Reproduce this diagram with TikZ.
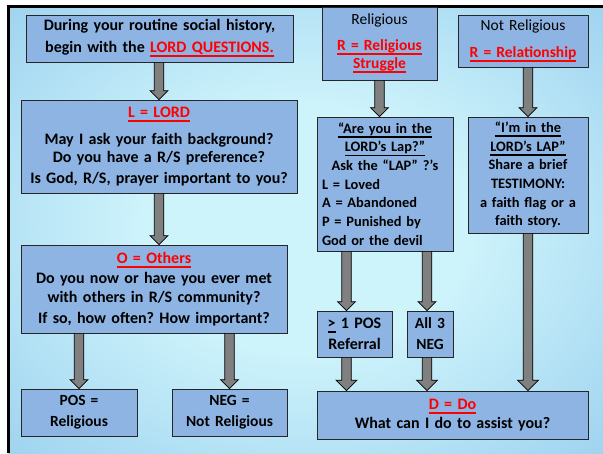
\documentclass[tikz,border=0pt]{standalone}
\usepackage{fontspec}
\setmainfont{Carlito}
\usetikzlibrary{calc}

\definecolor{boxblue}{RGB}{142,180,227}
\definecolor{arrowgray}{RGB}{128,128,128}
\definecolor{bglight}{RGB}{205,243,251}
\definecolor{bgmid}{RGB}{128,190,232}
\definecolor{bgdark}{RGB}{80,145,208}
\pgfdeclareradialshading{slidebg}{\pgfpoint{0bp}{0bp}}{color(0bp)=(bglight); color(14bp)=(bglight); color(50bp)=(bgmid); color(71bp)=(bgdark)}

\tikzset{
    box/.style={draw=black!85, line width=0.7pt, fill=boxblue, align=center,
        inner xsep=2pt, inner ysep=1pt, font=\bfseries\frenchspacing\fontsize{16}{17.3}\selectfont},
    midtext/.style={font=\bfseries\frenchspacing\fontsize{15.5}{17.3}\selectfont},
    smalltext/.style={font=\bfseries\frenchspacing\fontsize{14.4}{17}\selectfont},
    blockarrow/.style={draw=black, line width=0.7pt, fill=arrowgray}
}

\newcommand{\thickul}[1]{\leavevmode\setbox0=\hbox{#1}\rlap{\raisebox{-4.5pt}{\rule{\wd0}{1.8pt}}}\box0\relax}
\newcommand{\redul}[1]{{\color{red}\thickul{#1}}}
\newcommand{\lapline}[1]{\makebox[\linewidth][l]{\hspace{3pt}#1}}
\newcommand{\blockarrow}[3][9pt]{%
    \path[blockarrow] let \p1=(#2), \p2=(#3) in
        (\x1-4.75pt,\y1) -- (\x1+4.75pt,\y1) -- (\x1+4.75pt,\y2+#1) -- (\x1+#1,\y2+#1)
        -- (\x1,\y2) -- (\x1-#1,\y2+#1) -- (\x1-4.75pt,\y2+#1) -- cycle;}

\begin{document}
\begin{tikzpicture}[x=1pt,y=-1pt]
    \useasboundingbox (0,0) rectangle (603,453);
    % Slide
    \fill[shading=slidebg] (8,6) rectangle (603,453);
    \draw[line width=3pt] (8,453) -- (8,6) -- (603,6);

    % Left column
    \node[box, text width=263pt, minimum height=47pt] (intro) at (159.5,38.5)
        {During your routine social history,\\[4.5pt] begin with the \redul{LORD QUESTIONS.}};
    \node[box, text width=272pt, minimum height=93pt] (lord) at (159,146.5)
        {\redul{L = LORD}\\[10.5pt] May I ask your faith background?\\ Do you have a R/S preference?\\[4.5pt] Is God, R/S, prayer important to you?};
    \node[box, text width=262pt, minimum height=88pt] (others) at (154,289)
        {\redul{O = Others}\\[3.5pt] Do you now or have you ever met\\[1.5pt] with others in R/S community?\\[3.5pt] If so, how often? How important?};
    \node[box, midtext, text width=112pt, minimum height=47pt] (pos) at (79,412.5)
        {POS =\\[3.5pt] Religious};
    \node[box, midtext, text width=111pt, minimum height=47pt] (neg) at (229.5,412.5)
        {NEG =\\[3.5pt] Not Religious};

    % Right column
    \node[box, midtext, text width=111pt, minimum height=73pt] (relig) at (379.5,43.5)
        {{\mdseries Religious}\\[8.5pt] \redul{R = Religious}\\[0.5pt] \redul{Struggle}};
    \node[box, midtext, text width=126pt, minimum height=52pt] (notrel) at (523,41)
        {{\mdseries Not Religious}\\[9.5pt] \redul{R = Relationship}};
    \node[box, smalltext, text width=132pt, minimum height=134pt] (lap) at (385,184)
        {\thickul{“Are you in the}\\[1.7pt] \thickul{LORD’s Lap?”}\\[1.7pt] Ask the “LAP” ?’s\\[1.7pt]
         \lapline{L = Loved}\\[1.7pt] \lapline{A = Abandoned}\\[1.7pt] \lapline{P = Punished by}\\[1.7pt] \lapline{God or the devil}};
    \node[box, smalltext, text width=116pt, minimum height=116pt] (testi) at (528,175)
        {\thickul{“I’m in the}\\[1.7pt] \thickul{LORD’s LAP”}\\[1.7pt] Share a brief\\[1.7pt] TESTIMONY:\\[1.7pt] a faith flag or a\\[1.7pt] faith story.};
    \node[box, text width=71pt, minimum height=46pt] (posref) at (354.5,334)
        {\thickul{>} 1 POS\\[3.5pt] Referral};
    \node[box, midtext, text width=42pt, minimum height=46pt] (neg3) at (430,334)
        {All 3\\[3.5pt] NEG};
    \node[box, text width=267pt, minimum height=48pt] (do) at (452.5,415)
        {\redul{D = Do}\\[1.5pt] What can I do to assist you?};

    \coordinate (posin) at ([xshift=-8pt]posref.north);
    \coordinate (negin) at ([xshift=-3pt]neg3.north);

    % Arrows
    \blockarrow{intro.south -| lord}{lord.north}
    \blockarrow{lord.south}{lord.south |- others.north}
    \blockarrow{others.south -| pos}{pos.north}
    \blockarrow{others.south -| neg}{neg.north}
    \blockarrow{relig.south}{relig.south |- lap.north}
    \blockarrow{notrel.south -| testi}{testi.north}
    \blockarrow{lap.south -| posin}{posin}
    \blockarrow{lap.south -| negin}{negin}
    \blockarrow[10.5pt]{posref.south -| posin}{do.north -| posin}
    \blockarrow[10.5pt]{neg3.south -| negin}{do.north -| negin}
    \blockarrow[10.5pt]{testi.south}{testi.south |- do.north}
\end{tikzpicture}
\end{document}
